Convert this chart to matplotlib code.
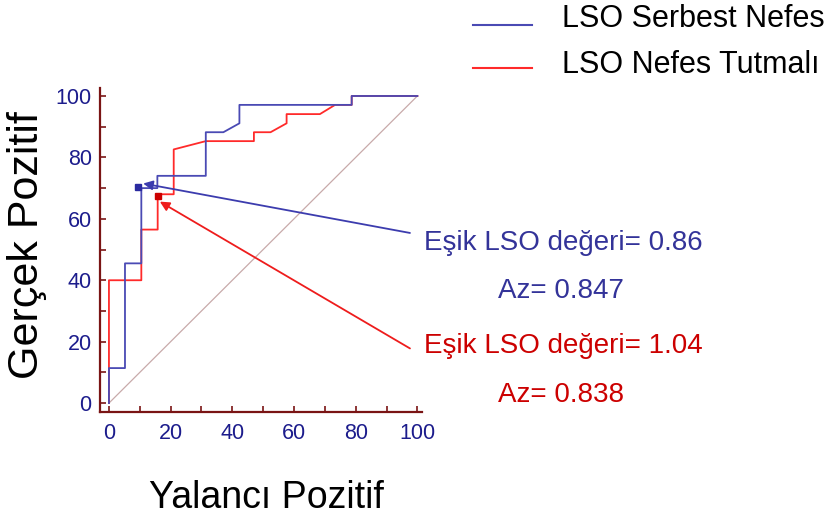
import matplotlib
matplotlib.use('Agg')
import matplotlib.pyplot as plt
from matplotlib.ticker import MultipleLocator

plt.rcParams['font.family'] = ['Liberation Sans', 'DejaVu Sans']

# ROC noktaları (okunan değerler, %)
serbest_fpr = [0, 0, 5.2, 5.2, 10.5, 10.5, 15.7, 15.7, 31.4, 31.4, 37.1, 42.3, 42.3, 78.7, 78.7, 100]
serbest_tpr = [0, 11.4, 11.4, 45.5, 45.5, 70.0, 70.0, 74.0, 74.0, 88.2, 88.2, 91.1, 97.1, 97.1, 100, 100]

tutmali_fpr = [0, 0, 10.5, 10.5, 15.8, 15.8, 21.0, 21.0, 31.4, 47.0, 47.0, 52.4, 57.6, 57.6, 68.4, 73.3, 78.7, 78.7, 100]
tutmali_tpr = [0, 40, 40, 56.5, 56.5, 68.0, 68.0, 82.6, 85.3, 85.3, 88.2, 88.2, 91.1, 94.1, 94.1, 97.1, 97.1, 100, 100]

# eşik noktaları
serbest_nokta = (9.5, 70.3)
tutmali_nokta = (15.8, 67.5)

etiketler = ['LSO Serbest Nefes', 'LSO Nefes Tutmalı']
esik_yazi = ['Eşik LSO değeri= 0.86', 'Eşik LSO değeri= 1.04']
az_yazi = ['Az= 0.847', 'Az= 0.838']

mavi = '#4a4ab4'
kirmizi = '#ff2a2a'
mavi_yazi = '#333399'
kirmizi_yazi = '#cc0000'
eksen = '#7a1414'

W, H = 828, 522
fig = plt.figure(figsize=(W / 100, H / 100), dpi=100)
ax = fig.add_axes([100 / W, (H - 412) / H, 322 / W, 324 / H])

ax.plot([0, 100], [0, 100], color='#c8aaaa', lw=0.9)
ax.plot(tutmali_fpr, tutmali_tpr, color=kirmizi, lw=1.3)
ax.plot(serbest_fpr, serbest_tpr, color=mavi, lw=1.3)
ax.plot(*serbest_nokta, 's', color='#2a2aa0', ms=5)
ax.plot(*tutmali_nokta, 's', color='#cc0000', ms=5)

ax.annotate('', xy=(11.1, 71.5), xytext=(97.6, 55.4), annotation_clip=False,
            arrowprops=dict(arrowstyle='-|>', color='#3c3cae', lw=1.3,
                            mutation_scale=14, shrinkA=0, shrinkB=0))
ax.annotate('', xy=(16.5, 65.6), xytext=(97.6, 17.8), annotation_clip=False,
            arrowprops=dict(arrowstyle='-|>', color='#ee1c1c', lw=1.3,
                            mutation_scale=14, shrinkA=0, shrinkB=0))

ax.set_xlim(-2.9, 101.5)
ax.set_ylim(-2.9, 102.6)
for s in ['top', 'right']:
    ax.spines[s].set_visible(False)
for s in ['left', 'bottom']:
    ax.spines[s].set_color(eksen)
    ax.spines[s].set_linewidth(1.6)

for a in (ax.xaxis, ax.yaxis):
    a.set_major_locator(MultipleLocator(20))
    a.set_minor_locator(MultipleLocator(10))
ax.tick_params(which='both', direction='in', length=4.5, width=1.2, color=eksen,
               labelsize=15.5, labelcolor='#1c1c8c')
ax.tick_params(axis='x', pad=8)
ax.tick_params(axis='y', pad=6)

# eksen başlıkları
fig.text(27 / W, 1 - 245 / H, 'Gerçek Pozitif', rotation=90, fontsize=31,
         ha='center', va='center')
fig.text(266 / W, 1 - 498 / H, 'Yalancı Pozitif', fontsize=27,
         ha='center', va='center')

# açıklama (legend)
fig.add_artist(plt.Line2D([473 / W, 532 / W], [1 - 25 / H, 1 - 25 / H], color=mavi, lw=1.5))
fig.add_artist(plt.Line2D([473 / W, 532 / W], [1 - 68 / H, 1 - 68 / H], color=kirmizi, lw=1.5))
fig.text(562 / W, 1 - 27 / H, etiketler[0], fontsize=22, va='baseline')
fig.text(562 / W, 1 - 73 / H, etiketler[1], fontsize=22, va='baseline')

# eşik ve Az yazıları
fig.text(563 / W, 1 - 250 / H, esik_yazi[0], fontsize=20, color=mavi_yazi, ha='center', va='baseline')
fig.text(561 / W, 1 - 298 / H, az_yazi[0], fontsize=20, color=mavi_yazi, ha='center', va='baseline')
fig.text(563 / W, 1 - 353 / H, esik_yazi[1], fontsize=20, color=kirmizi_yazi, ha='center', va='baseline')
fig.text(561 / W, 1 - 402 / H, az_yazi[1], fontsize=20, color=kirmizi_yazi, ha='center', va='baseline')

fig.savefig('out.png', dpi=100)
